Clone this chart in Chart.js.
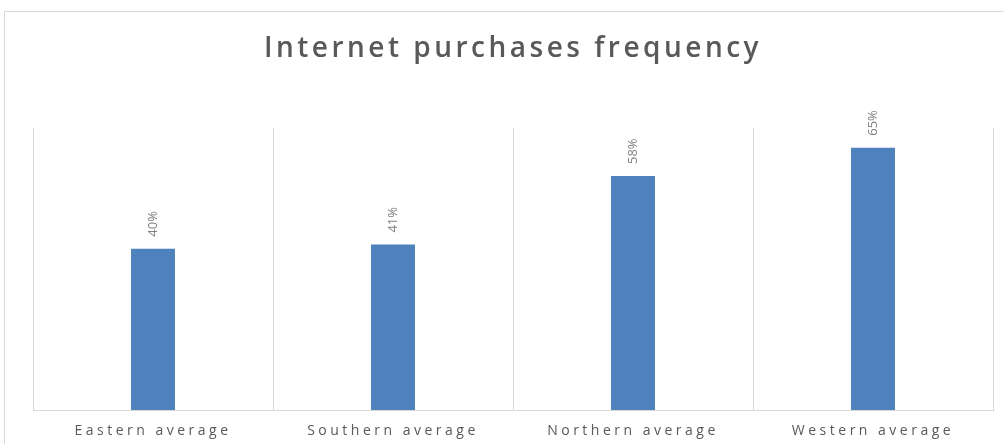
<!DOCTYPE html>
<html><head><meta charset="utf-8">
<script src="https://cdn.jsdelivr.net/npm/chart.js@4.4.1/dist/chart.umd.min.js"></script>
<style>
html,body{margin:0;padding:0;background:#fff;overflow:hidden}
#wrap{position:absolute;left:0;top:0;width:1004px;height:444px}
#frame{position:absolute;left:4px;top:11px;width:1020px;height:460px;border:1px solid #d9d9d9;pointer-events:none}
</style></head>
<body>
<div id="wrap"><canvas id="c" width="1004" height="444"></canvas></div>
<div id="frame"></div>
<script>
const titleText = 'Internet purchases frequency';
const categories = ['Eastern average','Southern average','Northern average','Western average'];
const values = [40, 41, 58, 65];
const valueLabels = ['40%','41%','58%','65%'];

const labelPlugin = {
  id: 'vlabels',
  beforeDraw(chart){ chart.ctx.letterSpacing = '3.5px'; },
  afterDatasetsDraw(chart){
    const ctx = chart.ctx;
    const meta = chart.getDatasetMeta(0);
    ctx.save();
    ctx.letterSpacing = '0px';
    ctx.font = '13px "Open Sans", sans-serif';
    ctx.fillStyle = '#7f7f7f';
    ctx.textAlign = 'left';
    ctx.textBaseline = 'middle';
    meta.data.forEach((bar, i) => {
      ctx.save();
      ctx.translate(bar.x, bar.y - 12);
      ctx.rotate(-Math.PI/2);
      ctx.fillText(valueLabels[i], 0, 0);
      ctx.restore();
    });
    ctx.restore();
  }
};

new Chart(document.getElementById('c'), {
  type: 'bar',
  data: {
    labels: categories,
    datasets: [{
      data: values,
      backgroundColor: '#4f81bd',
      borderWidth: 0,
      categoryPercentage: 1,
      barPercentage: 0.183
    }]
  },
  options: {
    responsive: false,
    animation: false,
    events: [],
    layout: { padding: { left: 33, right: 11, top: 0, bottom: 0 } },
    plugins: {
      legend: { display: false },
      tooltip: { enabled: false },
      title: {
        display: true,
        text: titleText,
        color: '#595959',
        font: { family: '"Open Sans", sans-serif', size: 28, weight: '600' },
        padding: { top: 32, bottom: 62 }
      }
    },
    scales: {
      x: {
        grid: { display: true, color: '#d9d9d9', drawTicks: false, offset: true },
        border: { display: true, color: '#d9d9d9' },
        ticks: {
          color: '#595959',
          font: { family: '"Open Sans", sans-serif', size: 14 },
          padding: 13,
          maxRotation: 0,
          autoSkip: false
        },
        afterFit(scale){ scale.height = 34; }
      },
      y: {
        display: false,
        min: 0,
        max: 70
      }
    }
  },
  plugins: [labelPlugin]
});
</script>
</body></html>
